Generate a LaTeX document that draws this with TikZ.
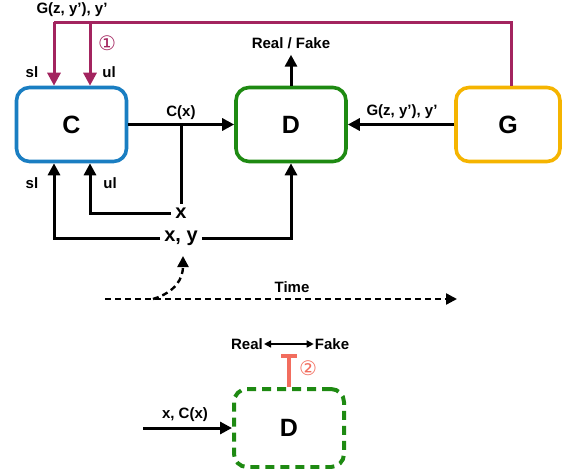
\documentclass[tikz,border=0pt]{standalone}
\usepackage{fontspec}
\setmainfont{Liberation Sans}
\newfontfamily\symfont{DejaVu Sans}
\usetikzlibrary{arrows.meta}
\definecolor{cblue}{HTML}{1A7EC2}
\definecolor{cgreen}{HTML}{1E8A12}
\definecolor{cyellow}{HTML}{F5B400}
\definecolor{cmag}{HTML}{A3245F}
\definecolor{cred}{HTML}{F26D5E}
\tikzset{
  box/.style={draw, line width=3.6pt, rounded corners=13pt, minimum width=110pt, minimum height=74pt, font=\fontsize{25}{27}\selectfont\bfseries},
  lbl/.style={font=\fontsize{15}{17}\selectfont\bfseries, inner sep=1pt},
  big/.style={font=\fontsize{20}{22}\selectfont\bfseries, inner sep=4pt},
  arr/.style={line width=3pt, -{Triangle[length=12pt,width=12pt]}},
  ln/.style={line width=3pt},
  mag/.style={line width=3pt, cmag, -{Triangle[length=13pt,width=13pt]}},
  circ/.style={font=\symfont\fontsize{20}{22}\selectfont, inner sep=0pt},
}
\begin{document}
\begin{tikzpicture}[x=1pt,y=-1pt]
\useasboundingbox (0,0) rectangle (563,469);
% boxes
\node[box, draw=cblue] (C) at (71.5,124.5) {C};
\node[box, draw=cgreen] (D) at (291,124.5) {D};
\node[box, draw=cyellow, minimum width=104pt] (G) at (508,124.5) {G};
\node[box, draw=cgreen, line width=4pt, dash pattern=on 9pt off 6pt, minimum height=78pt] (Db) at (289,428) {D};
% labels
\node[lbl] (gtop) at (72,10) {G(z, y’), y’};
\node[circ, text=cmag] (n1) at (107,43) {①};
\node[lbl] (sl1) at (32,72) {sl};
\node[lbl] (ul1) at (109,72) {ul};
\node[lbl] (sl2) at (32,183) {sl};
\node[lbl] (ul2) at (110,183) {ul};
\node[lbl] (cx) at (181,113) {C(x)};
\node[lbl] (gl) at (402,112) {G(z, y’), y’};
\node[lbl] (rf) at (291,43) {Real / Fake};
\node[big] (x) at (181,213) {x};
\node[big] (xy) at (181,238) {x, y};
\node[lbl] (time) at (292,287) {Time};
\node[lbl] (xc) at (185,415) {x, C(x)};
\node[lbl] (real) at (247,344) {Real};
\node[lbl] (fake) at (332,344) {Fake};
\node[circ, text=cred] (n2) at (308,368) {②};
% coordinates
\coordinate (mtop) at (511,22);
\coordinate (mleft) at (54,22);
\coordinate (mmid) at (90,22);
\coordinate (cxl) at (181,124.5);
\coordinate (tstart) at (105,299);
\coordinate (tend) at (457,299);
\coordinate (cstart) at (153,299);
\coordinate (cend) at (183,256);
\coordinate (inl) at (143,428);
\coordinate (tbar) at (289,356);
% connectors
\draw[arr] (C.east) -- (D.west);
\draw[arr] (G.west) -- (D.east);
\draw[arr] (D.north) -- ++(0,-31);
\draw[line width=3pt, cmag] (G.north -| mtop) -- (mtop) -- (mleft);
\draw[mag] (mleft) -- (C.north -| mleft);
\draw[mag] (mmid) -- (C.north -| mmid);
\draw[ln] (x.north) -- (cxl);
\draw[arr] (x.west) -| (C.south -| mmid);
\draw[arr] (xy.west) -| (C.south -| mleft);
\draw[arr] (xy.east) -| (D.south);
\draw[line width=2.4pt, dash pattern=on 6pt off 4pt, -{Triangle[length=11pt,width=11pt]}] (tstart) -- (tend);
\draw[line width=2.4pt, dash pattern=on 6pt off 4pt, -{Triangle[length=11pt,width=11pt]}] (cstart) .. controls (176,292) and (183,278) .. (cend);
\draw[arr] (inl) -- (Db.west);
\draw[line width=1.5pt, {Triangle[length=7pt,width=7pt]}-{Triangle[length=7pt,width=7pt]}] (real.east) -- (fake.west);
\draw[line width=3.2pt, cred] (Db.north -| tbar) -- (tbar);
\draw[line width=3.2pt, cred] ([xshift=-8pt]tbar) -- ([xshift=8pt]tbar);
\end{tikzpicture}
\end{document}
